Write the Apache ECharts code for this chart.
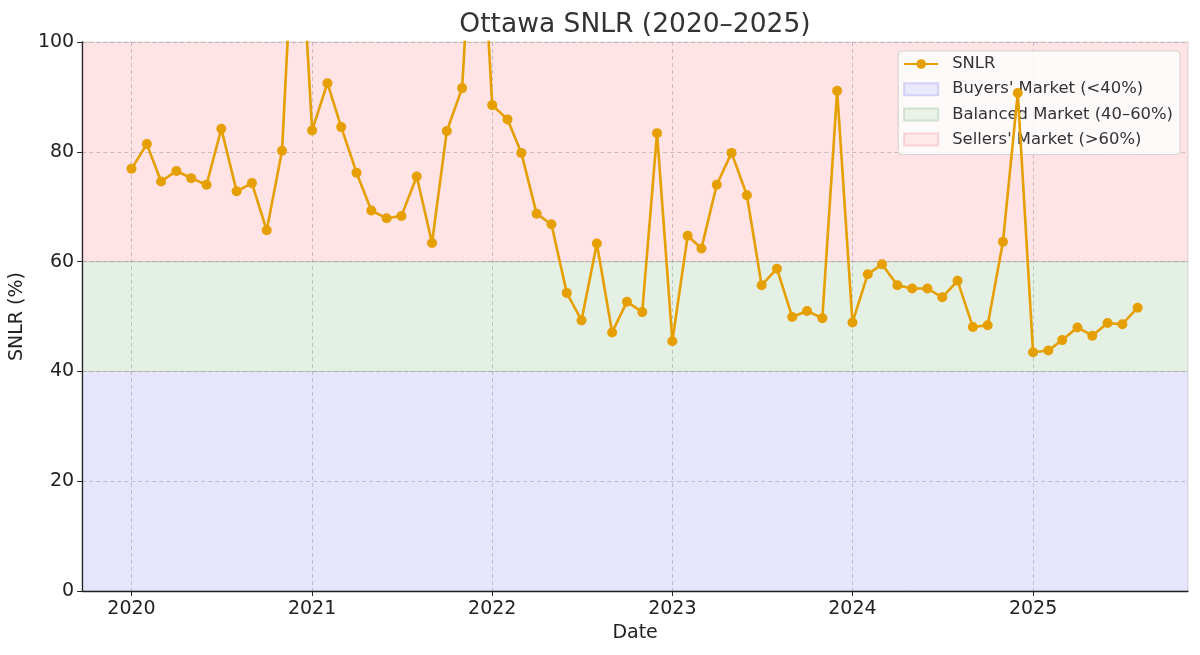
<!DOCTYPE html>
<html>
<head>
<meta charset="utf-8">
<title>Ottawa SNLR</title>
<script src="https://cdn.jsdelivr.net/npm/echarts@6/dist/echarts.min.js"></script>
<style>
  html, body { margin: 0; padding: 0; background: #fff; }
  #chart { width: 1200px; height: 655px; }
</style>
</head>
<body>
<div id="chart"></div>
<script>
// SNLR by month (Dec 2020 / Dec 2021 go off the top)
const snlr2020 = [76.9, 81.4, 74.6, 76.5, 75.2, 74.0, 84.2, 72.8, 74.3, 65.7, 80.2, 133]
const snlr2021 = [83.9, 92.5, 84.5, 76.2, 69.3, 67.9, 68.3, 75.5, 63.4, 83.8, 91.6, 138]
const snlr2022 = [88.5, 85.9, 79.8, 68.7, 66.8, 54.3, 49.3, 63.3, 47.1, 52.7, 50.8, 83.4]
const snlr2023 = [45.5, 64.7, 62.4, 74.0, 79.8, 72.1, 55.7, 58.7, 49.9, 51.0, 49.7, 91.1]
const snlr2024 = [48.9, 57.7, 59.5, 55.7, 55.1, 55.1, 53.5, 56.5, 48.1, 48.4, 63.6, 90.7]
const snlr2025 = [43.5, 43.8, 45.7, 48.0, 46.5, 48.8, 48.6, 51.6]

const years = [2020, 2021, 2022, 2023, 2024, 2025]
const yTicks = [0, 20, 40, 60, 80, 100]

// market zones
const zoneNames = ["Buyers' Market (<40%)", 'Balanced Market (40–60%)', "Sellers' Market (>60%)"]
const zoneEdges = [[0, 40], [40, 60], [60, 100]]
const zoneColors = ['#e5e5fd', '#e5f0e5', '#ffe3e5']
const zoneBorders = ['#c9c9f5', '#c6dcc6', '#f5c9cc']

const font = 'DejaVu Sans'
const lineColor = '#e69f00'

// build [time, value] pairs (first of each month)
let points = []
;[snlr2020, snlr2021, snlr2022, snlr2023, snlr2024, snlr2025].forEach((arr, yi) => {
  arr.forEach((v, m) => {
    points.push([new Date(years[yi], m, 1).getTime(), v])
  })
})
const yearTicks = years.map(y => new Date(y, 0, 1).getTime())

var myChart = echarts.init(document.getElementById('chart'), null, { renderer: 'canvas' })

let zoneSeries = zoneNames.map((name, i) => {
  return {
    name: name,
    type: 'scatter',
    data: [],
    itemStyle: { color: zoneColors[i], borderColor: zoneBorders[i], borderWidth: 1 },
    z: 1,
    markArea: {
      silent: true,
      itemStyle: { color: zoneColors[i], borderColor: 'rgba(120,110,110,0.25)', borderWidth: 1 },
      data: [[{ yAxis: zoneEdges[i][0] }, { yAxis: zoneEdges[i][1] }]]
    }
  }
})

myChart.setOption({
  animation: false,
  title: {
    text: 'Ottawa SNLR (2020–2025)',
    left: 630,
    textAlign: 'center',
    top: 7,
    textStyle: { fontFamily: font, fontSize: 26.5, fontWeight: 'normal', color: '#333' }
  },
  legend: {
    orient: 'vertical',
    right: 20,
    top: 51,
    padding: [5, 7, 7, 5],
    itemGap: 9.2,
    itemWidth: 34,
    itemHeight: 12,
    backgroundColor: 'rgba(255,255,255,0.8)',
    borderColor: '#d0d0d0',
    borderWidth: 1,
    borderRadius: 4,
    textStyle: { fontFamily: font, fontSize: 16.4, color: '#333', padding: [0, 0, 0, 9] },
    data: [
      { name: 'SNLR' },
      { name: zoneNames[0], icon: 'rect' },
      { name: zoneNames[1], icon: 'rect' },
      { name: zoneNames[2], icon: 'rect' }
    ]
  },
  grid: { left: 82, right: 12, top: 42, bottom: 64, containLabel: false },
  xAxis: {
    type: 'value',
    z: 3,
    min: new Date(2019, 8, 23).getTime(),
    max: new Date(2025, 10, 11).getTime(),
    name: 'Date',
    nameLocation: 'middle',
    nameGap: 31,
    nameTextStyle: { fontFamily: font, fontSize: 19, color: '#222' },
    axisLine: { lineStyle: { color: '#222', width: 1.3 } },
    axisTick: { show: true, length: 5, lineStyle: { color: '#222' }, customValues: yearTicks },
    axisLabel: {
      customValues: yearTicks,
      fontFamily: font, fontSize: 19, color: '#222', margin: 9,
      formatter: v => '' + new Date(v).getFullYear()
    },
    splitLine: { show: true, lineStyle: { color: 'rgba(150,150,150,0.5)', type: [4, 3], width: 1 } }
  },
  yAxis: {
    type: 'value',
    z: 3,
    min: 0,
    max: 100,
    interval: 20,
    name: 'SNLR (%)',
    nameLocation: 'middle',
    nameGap: 49,
    nameTextStyle: { fontFamily: font, fontSize: 19, color: '#222' },
    axisLine: { show: true, lineStyle: { color: '#222', width: 1.3 } },
    axisTick: { show: true, length: 5, lineStyle: { color: '#222' } },
    axisLabel: {
      fontFamily: font, fontSize: 19, color: '#222', margin: 8,
      formatter: v => yTicks.indexOf(v) >= 0 ? '' + v : ''
    },
    splitLine: { show: true, lineStyle: { color: 'rgba(150,150,150,0.5)', type: [4, 3], width: 1 } }
  },
  series: zoneSeries.concat([
    {
      name: 'SNLR',
      type: 'line',
      data: points,
      clip: true,
      z: 5,
      symbol: 'circle',
      symbolSize: 10,
      itemStyle: { color: lineColor },
      lineStyle: { color: lineColor, width: 2.6 }
    }
  ])
})
</script>
</body>
</html>
